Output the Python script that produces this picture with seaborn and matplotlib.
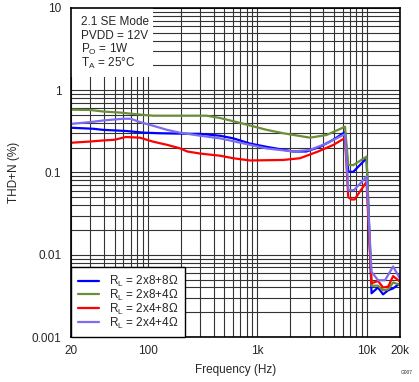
import pandas as pd
import matplotlib
matplotlib.use("Agg")
import matplotlib.pyplot as plt
import matplotlib.ticker as mticker
from matplotlib.patches import Rectangle
import seaborn as sns

# Curvas (frecuencia en Hz, THD+N en %)
freq_8_8 = [20, 32, 39, 63, 92, 130, 260, 300, 456, 604, 857, 1216, 2126, 2800,
            3724, 4920, 6070, 6300, 6750, 7500, 9900, 11000, 12600, 14000, 15600,
            17300, 20000]
thd_8_8 = [0.35, 0.34, 0.33, 0.32, 0.305, 0.30, 0.295, 0.295, 0.28, 0.26, 0.225,
           0.205, 0.18, 0.18, 0.205, 0.25, 0.30, 0.31, 0.102, 0.102, 0.149, 0.0034,
           0.0040, 0.0033, 0.0037, 0.0039, 0.0045]

freq_8_4 = [20, 30, 40, 56, 80, 112, 345, 456, 604, 700, 1216, 1722, 3020, 4285,
            6300, 6750, 7500, 9900, 11000, 12600, 14000, 15600, 17300, 20000]
thd_8_4 = [0.58, 0.575, 0.55, 0.535, 0.51, 0.49, 0.49, 0.46, 0.42, 0.40, 0.33,
           0.30, 0.265, 0.286, 0.36, 0.123, 0.123, 0.156, 0.0042, 0.0042, 0.0037,
           0.0038, 0.0046, 0.0043]

freq_4_8 = [20, 30, 39, 50, 63, 85, 112, 150, 196, 230, 300, 456, 604, 857, 1722,
            2445, 3580, 4920, 6070, 6300, 6750, 7200, 7700, 9900, 11000, 12600,
            14000, 15600, 17300, 20000]
thd_4_8 = [0.23, 0.238, 0.245, 0.25, 0.27, 0.265, 0.237, 0.217, 0.197, 0.18, 0.17,
           0.16, 0.149, 0.14, 0.142, 0.149, 0.18, 0.216, 0.255, 0.26, 0.05, 0.047,
           0.047, 0.077, 0.0045, 0.0048, 0.0040, 0.0041, 0.0055, 0.0047]

freq_4_4 = [20, 30, 40, 60, 70, 85, 112, 150, 196, 300, 456, 604, 1216, 2126, 3020,
            4285, 6070, 6300, 6750, 7600, 9900, 11000, 12600, 14600, 17300, 20000]
thd_4_4 = [0.39, 0.41, 0.43, 0.45, 0.45, 0.41, 0.37, 0.33, 0.305, 0.28, 0.26, 0.24,
           0.196, 0.18, 0.188, 0.226, 0.286, 0.29, 0.061, 0.061, 0.089, 0.0062,
           0.0049, 0.0049, 0.0072, 0.0051]

etiquetas = [r"R$_{L}$ = 2x8+8Ω", r"R$_{L}$ = 2x8+4Ω",
             r"R$_{L}$ = 2x4+8Ω", r"R$_{L}$ = 2x4+4Ω"]
colores = ["#0000FF", "#6B8E3A", "#FF0000", "#7B6CF0"]

xtick_vals = [20, 100, 1000, 10000, 20000]
xtick_txt = ["20", "100", "1k", "10k", "20k"]
ytick_vals = [0.001, 0.01, 0.1, 1, 10]
ytick_txt = ["0.001", "0.01", "0.1", "1", "10"]

# Tabla larga para seaborn
partes = []
for et, f, v in zip(etiquetas, [freq_8_8, freq_8_4, freq_4_8, freq_4_4],
                    [thd_8_8, thd_8_4, thd_4_8, thd_4_4]):
    partes.append(pd.DataFrame({"Frecuencia": f, "THD": v, "Carga": et}))
df = pd.concat(partes, ignore_index=True)

sns.set_style("white")
plt.rcParams["font.family"] = ["Liberation Sans", "DejaVu Sans"]
plt.rcParams["mathtext.default"] = "regular"
plt.rcParams["font.size"] = 8.5

fig = plt.figure(figsize=(4.19, 3.82), dpi=100)
ax = fig.add_axes([0.1695, 0.1178, 0.7852, 0.8613])

sns.lineplot(data=df, x="Frecuencia", y="THD", hue="Carga", hue_order=etiquetas,
             palette=colores, sort=False, linewidth=1.6, ax=ax, zorder=3)

ax.set_xscale("log")
ax.set_yscale("log")
ax.set_xlim(20, 20000)
ax.set_ylim(0.001, 10)

ax.xaxis.set_major_locator(mticker.FixedLocator(xtick_vals))
ax.xaxis.set_major_formatter(mticker.FixedFormatter(xtick_txt))
ax.xaxis.set_minor_locator(mticker.LogLocator(base=10, subs=range(1, 10), numticks=50))
ax.xaxis.set_minor_formatter(mticker.NullFormatter())
ax.yaxis.set_major_locator(mticker.FixedLocator(ytick_vals))
ax.yaxis.set_major_formatter(mticker.FixedFormatter(ytick_txt))
ax.yaxis.set_minor_locator(mticker.LogLocator(base=10, subs=range(1, 10), numticks=50))
ax.yaxis.set_minor_formatter(mticker.NullFormatter())

ax.grid(True, which="both", color="#333333", linewidth=0.8)
ax.tick_params(which="both", length=0)
ax.tick_params(axis="y", pad=7)
ax.tick_params(axis="x", pad=6)
for s in ax.spines.values():
    s.set_color("black")
    s.set_linewidth(1.2)
    s.set_zorder(6)

ax.set_xlabel("Frequency (Hz)", labelpad=5)
ax.set_ylabel("THD+N (%)", labelpad=8)

# Caja de condiciones
ax.add_patch(Rectangle((0, 0.79), 0.25, 0.21, transform=ax.transAxes,
                       facecolor="white", edgecolor="none", zorder=4))
lineas = ["2.1 SE Mode", "PVDD = 12V", r"P$_{O}$ = 1W", r"T$_{A}$ = 25°C"]
for i, t in enumerate(lineas):
    ax.text(0.03, 0.956 - i * 0.0415, t, transform=ax.transAxes, fontsize=8.5,
            va="center", ha="left", zorder=5)

leg = ax.legend(loc="lower left", bbox_to_anchor=(0, 0), borderaxespad=0,
                fancybox=False, framealpha=1, edgecolor="black", title=None,
                handlelength=1.8, handletextpad=0.85, labelspacing=-0.1,
                borderpad=0.55, fontsize=8.5)
leg.get_frame().set_linewidth(1.0)
leg.set_zorder(7)

fig.text(0.985, 0.025, "G007", fontsize=3.5, ha="right", va="center")

fig.savefig("out.png", dpi=100)
